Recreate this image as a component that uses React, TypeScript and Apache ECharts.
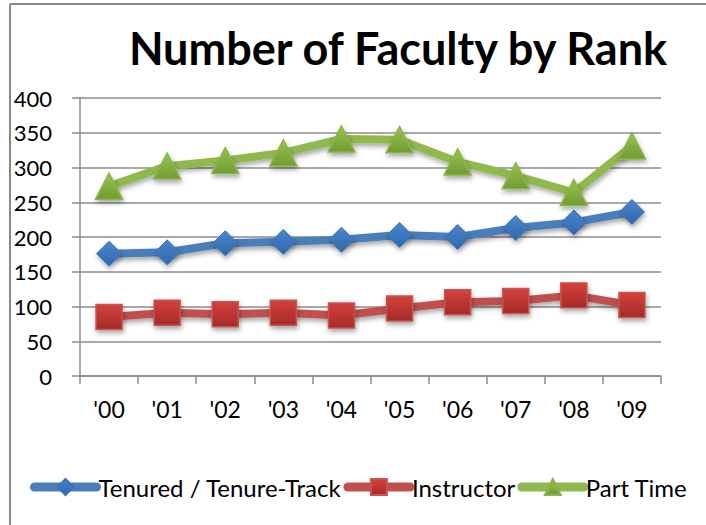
import React, { useEffect, useRef } from "react";
import * as echarts from "echarts";

const categories = ["'00", "'01", "'02", "'03", "'04", "'05", "'06", "'07", "'08", "'09"];
const tenured = [176, 178, 191, 193, 196, 203, 200, 213, 221, 236];
const instructor = [85, 91, 89, 91, 87, 97, 106, 108, 116, 102];
const partTime = [273, 302, 310, 321, 341, 340, 308, 288, 264, 331];
const yTicks = { min: 0, max: 400, interval: 50 };

const FONT = "Lato, 'Noto Sans', sans-serif";

const grad = (top: string, bottom: string) =>
  new echarts.graphic.LinearGradient(0, 0, 0, 1, [
    { offset: 0, color: top },
    { offset: 1, color: bottom },
  ]);

export default function App() {
  const ref = useRef<HTMLDivElement>(null);
  useEffect(() => {
    if (!ref.current) return;
    const chart = echarts.init(ref.current, undefined, { renderer: "svg" });
    const shadow = {
      shadowColor: "rgba(0,0,0,0.35)",
      shadowBlur: 5,
      shadowOffsetX: 1,
      shadowOffsetY: 3,
    };
    chart.setOption({
      animation: false,
      backgroundColor: "#fff",
      title: {
        text: "Number of Faculty by Rank",
        left: 393,
        textAlign: "center",
        top: 20,
        textStyle: { fontFamily: FONT, fontWeight: "bold", fontSize: 45, color: "#000" },
      },
      graphic: [
        {
          type: "line",
          shape: { x1: 10, y1: 4, x2: 706, y2: 4 },
          style: { stroke: "#888888", lineWidth: 2 },
          silent: true,
          z: 10,
        },
        {
          type: "line",
          shape: { x1: 10, y1: 4, x2: 10, y2: 525 },
          style: { stroke: "#888888", lineWidth: 2 },
          silent: true,
          z: 10,
        },
      ],
      legend: {
        bottom: 21,
        left: 25,
        itemWidth: 62,
        itemHeight: 20,
        itemGap: 2,
        lineStyle: { width: 9, cap: "round" },
        textStyle: { fontFamily: FONT, fontSize: 24, color: "#000", padding: [0, 0, 0, -3] },
        data: ["Tenured / Tenure-Track", "Instructor", "Part Time"],
      },
      grid: { left: 80, right: 45, top: 98, bottom: 149, containLabel: false },
      xAxis: {
        type: "category",
        data: categories,
        boundaryGap: true,
        axisLine: { lineStyle: { color: "#8c8c8c", width: 1.5 } },
        axisTick: { show: true, length: 8, lineStyle: { color: "#8c8c8c", width: 1.5 } },
        axisLabel: { fontFamily: FONT, fontSize: 23, color: "#000", margin: 21 },
      },
      yAxis: {
        type: "value",
        min: yTicks.min,
        max: yTicks.max,
        interval: yTicks.interval,
        axisLine: { show: true, lineStyle: { color: "#8c8c8c", width: 1.5 } },
        axisTick: { show: true, length: 8, lineStyle: { color: "#8c8c8c", width: 1.5 } },
        axisLabel: { fontFamily: FONT, fontSize: 22, color: "#000", margin: 28 },
        splitLine: { lineStyle: { color: "#8c8c8c", width: 1.5 } },
      },
      series: [
        {
          name: "Tenured / Tenure-Track",
          type: "line",
          data: tenured,
          symbol: "diamond",
          symbolSize: 25,
          lineStyle: { color: "#4a7ebb", width: 8, ...shadow },
          itemStyle: { color: grad("#4a86cc", "#2f68ad"), borderColor: "#3a72b8", borderWidth: 1, ...shadow },
          z: 3,
        },
        {
          name: "Instructor",
          type: "line",
          data: instructor,
          symbol: "rect",
          symbolSize: [26, 25],
          lineStyle: { color: "#c0504d", width: 8, ...shadow },
          itemStyle: { color: grad("#d4413d", "#a52a28"), borderColor: "#c9534f", borderWidth: 1.5, ...shadow },
          z: 2,
        },
        {
          name: "Part Time",
          type: "line",
          data: partTime,
          symbol: "triangle",
          symbolSize: [27, 26],
          lineStyle: { color: "#8fb84e", width: 8, ...shadow },
          itemStyle: { color: grad("#98c44e", "#729b32"), borderColor: "#8ab54a", borderWidth: 1.5, ...shadow },
          z: 4,
        },
      ],
    });
    return () => chart.dispose();
  }, []);
  return (
    <div
      ref={ref}
      style={{ position: "absolute", left: 0, top: 0, width: 706, height: 525 }}
    />
  );
}
